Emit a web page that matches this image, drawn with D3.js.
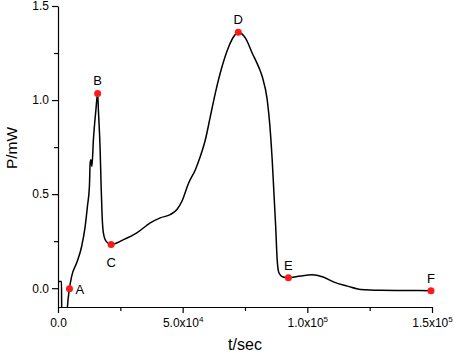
<!DOCTYPE html>
<html>
<head>
<meta charset="utf-8">
<script src="https://cdn.jsdelivr.net/npm/d3@7"></script>
<style>
  body { margin: 0; background: #fff; }
  svg { display: block; font-family: "Liberation Sans", Arial, sans-serif; }
</style>
</head>
<body>
<div id="chart"></div>
<script>
// time in units of 1e3 sec, power in mW
const tSec = [0, 1.4, 1.5, 3.6, 3.7, 4.6, 5.5, 7.5, 9.5, 10.9, 11.8, 12.6, 12.9, 13.2, 13.6, 14.2, 15.2, 15.9,
  16.2, 16.9, 17.3, 17.7, 18.2, 19.3, 21.3, 26.3, 31.6, 37.0, 41.0, 45.0, 47.7, 49.7, 52.4, 55.1, 57.1,
  59.1, 61.1, 63.1, 65.8, 68.5, 70.5, 72.3, 75.2, 77.9, 80.5, 81.9, 83.9, 85.0, 85.9, 86.6, 87.3, 87.9,
  88.6, 90.0, 92.4, 97.3, 102.0, 106.0, 110.7, 116.1, 121.4, 129.5, 140.2, 149.6];
const pMw = [0.035, 0.035, -0.15, -0.15, -0.12, -0.003, 0.064, 0.135, 0.223, 0.329, 0.435, 0.541, 0.666, 0.683, 0.648, 0.789, 0.948, 1.035,
  0.948, 0.737, 0.541, 0.382, 0.294, 0.249, 0.232, 0.258, 0.294, 0.347, 0.374, 0.391, 0.418, 0.462, 0.559, 0.630, 0.701,
  0.789, 0.913, 1.037, 1.178, 1.285, 1.338, 1.361, 1.329, 1.249, 1.175, 1.125, 1.002, 0.860, 0.684, 0.506, 0.329, 0.152,
  0.082, 0.061, 0.055, 0.065, 0.071, 0.061, 0.032, 0.011, -0.007, -0.011, -0.012, -0.013];

const pointLabels = ["A", "B", "C", "D", "E", "F"];
const pointIndex = [5, 17, 24, 41, 54, 63];

const xMajor = [0, 50, 100, 150];
const xMinor = [25, 75, 125];
const yMajor = [0, 0.5, 1.0, 1.5];
const yMinor = [0.25, 0.75, 1.25];

const width = 454, height = 354;

const svg = d3.select("#chart").append("svg")
  .attr("width", width)
  .attr("height", height);

const x = d3.scaleLinear().domain([0, 150]).range([58, 432]);
const y = d3.scaleLinear().domain([-0.1, 1.5]).range([307, 6]);

// clip so the dip below the axis is cut off
svg.append("clipPath").attr("id", "plotclip")
  .append("rect").attr("x", 58).attr("y", 0).attr("width", 380).attr("height", 307);

const data = tSec.map((t, i) => ({t: t, p: pMw[i]}));

const line = d3.line()
  .x(d => x(d.t))
  .y(d => y(d.p))
  .curve(d3.curveMonotoneX);

svg.append("path")
  .datum(data)
  .attr("clip-path", "url(#plotclip)")
  .attr("fill", "none")
  .attr("stroke", "#000")
  .attr("stroke-width", 1.5)
  .attr("d", line);

// axes
function styleAxis(g) {
  g.attr("font-family", null).attr("font-size", null);
  g.selectAll("path, line").attr("stroke", "#000").attr("stroke-width", 1.2);
  g.selectAll("text").attr("fill", "#000").style("font-size", "12px");
}

svg.append("g")
  .attr("transform", "translate(58,0)")
  .call(d3.axisLeft(y).tickValues(yMajor).tickSize(6).tickSizeOuter(0).tickPadding(3)
    .tickFormat(d3.format(".1f")))
  .call(styleAxis);
svg.append("g")
  .attr("transform", "translate(58,0)")
  .call(d3.axisLeft(y).tickValues(yMinor).tickSize(4).tickFormat(""))
  .call(g => g.select(".domain").remove())
  .call(styleAxis);

const xAxis = svg.append("g")
  .attr("transform", "translate(0,307)")
  .call(d3.axisBottom(x).tickValues(xMajor).tickSize(6).tickSizeOuter(0).tickPadding(5))
  .call(styleAxis);
svg.append("g")
  .attr("transform", "translate(0,307)")
  .call(d3.axisBottom(x).tickValues(xMinor).tickSize(4).tickFormat(""))
  .call(g => g.select(".domain").remove())
  .call(styleAxis);

// x tick labels as mantissa x 10^exp
xAxis.selectAll(".tick text").each(function(d) {
  const txt = d3.select(this).text("");
  if (d === 0) {
    txt.text("0.0");
    return;
  }
  const v = d * 1000;
  const ex = Math.floor(Math.log10(v));
  const m = v / Math.pow(10, ex);
  txt.append("tspan").text(m.toFixed(1) + "x10");
  txt.append("tspan").attr("dy", "-0.55em").style("font-size", "8px").text(ex);
});

// axis titles
svg.append("text")
  .attr("x", 245).attr("y", 350)
  .attr("text-anchor", "middle")
  .style("font-size", "16px")
  .text("t/sec");

svg.append("text")
  .attr("transform", "translate(17,148) rotate(-90)")
  .attr("text-anchor", "middle")
  .style("font-size", "15.5px")
  .text("P/mW");

// marked points
const pts = pointIndex.map((k, i) => ({t: tSec[k], p: pMw[k], label: pointLabels[i]}));

svg.append("g").selectAll("circle")
  .data(pts)
  .join("circle")
  .attr("cx", d => x(d.t))
  .attr("cy", d => y(d.p))
  .attr("r", 3.5)
  .attr("fill", "#ff1a1a");

svg.append("g").selectAll("text")
  .data(pts)
  .join("text")
  .style("font-size", "13px")
  .attr("text-anchor", d => d.label === "A" ? "start" : "middle")
  .attr("x", d => x(d.t) + (d.label === "A" ? 6 : 0))
  .attr("y", d => y(d.p) + (d.label === "A" ? 5 : d.label === "C" ? 22 : -8))
  .text(d => d.label);
</script>
</body>
</html>
